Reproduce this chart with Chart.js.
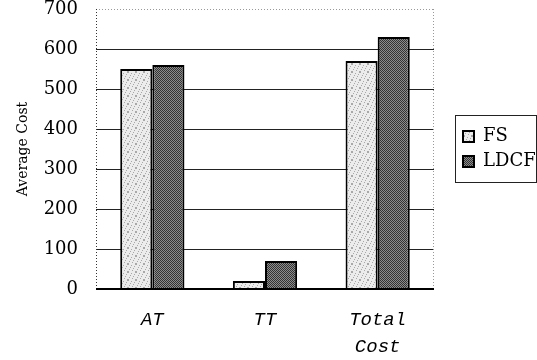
<!DOCTYPE html>
<html>
<head>
<meta charset="utf-8">
<script src="https://cdn.jsdelivr.net/npm/chart.js@4"></script>
<style>
  html, body { margin: 0; padding: 0; background: #fff; }
  #wrap { width: 537px; height: 360px; }
</style>
</head>
<body>
<div id="wrap"><canvas id="grafico" width="537" height="360"></canvas></div>
<script>
const categorias = ["AT", "TT", ["Total", "Cost"]];
const fs = [550, 20, 570];
const ldcf = [560, 70, 630];
const yTicks = [0, 100, 200, 300, 400, 500, 600, 700];

// stippled fills, like the printed original
function padrao(base, dot, step) {
  const c = document.createElement("canvas");
  c.width = 8; c.height = 8;
  const g = c.getContext("2d");
  g.fillStyle = base;
  g.fillRect(0, 0, 8, 8);
  g.fillStyle = dot;
  for (let y = 0; y < 8; y++) {
    for (let x = 0; x < 8; x++) {
      if ((x * 3 + y * 5) % step === 0) g.fillRect(x, y, 1, 1);
    }
  }
  return g.createPattern(c, "repeat");
}

const corFS = padrao("#ececec", "#a8a8a8", 7);
const corLDCF = padrao("#8c8c8c", "#333", 2);

const moldura = {
  id: "moldura",
  beforeDatasetsDraw(chart) {
    const a = chart.chartArea;
    const ctx = chart.ctx;
    ctx.save();
    ctx.lineWidth = 1;
    ctx.setLineDash([1, 2]);
    ctx.strokeStyle = "#999";
    ctx.beginPath();
    ctx.moveTo(a.left, a.top + 0.5);
    ctx.lineTo(a.right, a.top + 0.5);
    ctx.moveTo(a.right - 0.5, a.top);
    ctx.lineTo(a.right - 0.5, a.bottom);
    ctx.stroke();
    ctx.strokeStyle = "#333";
    ctx.beginPath();
    ctx.moveTo(a.left + 0.5, a.top);
    ctx.lineTo(a.left + 0.5, a.bottom);
    ctx.stroke();
    ctx.restore();
  },
  afterDraw(chart) {
    const a = chart.chartArea;
    const ctx = chart.ctx;
    ctx.save();
    ctx.strokeStyle = "#000";
    ctx.lineWidth = 2;
    ctx.beginPath();
    ctx.moveTo(a.left, a.bottom);
    ctx.lineTo(a.right, a.bottom);
    ctx.stroke();
    // legend frame
    const lg = chart.legend;
    ctx.lineWidth = 1;
    ctx.strokeStyle = "#222";
    ctx.strokeRect(lg.left - 0.5, 115.5, 537 - lg.left, 67);
    ctx.restore();
  }
};

new Chart(document.getElementById("grafico"), {
  type: "bar",
  data: {
    labels: categorias,
    datasets: [
      { label: "FS", data: fs, backgroundColor: corFS, borderColor: "#000", borderWidth: 2 },
      { label: "LDCF", data: ldcf, backgroundColor: corLDCF, borderColor: "#000", borderWidth: 2 }
    ]
  },
  options: {
    responsive: false,
    animation: false,
    datasets: { bar: { categoryPercentage: 0.57, barPercentage: 1 } },
    layout: { padding: { top: 9, right: 0, left: 0, bottom: 0 } },
    scales: {
      x: {
        grid: { display: false },
        border: { display: false },
        ticks: {
          color: "#000",
          padding: 9,
          maxRotation: 0,
          font: { family: "'Liberation Mono', monospace", size: 19, style: "italic", lineHeight: 1.45 }
        },
        afterFit(s) { s.height = 71; }
      },
      y: {
        min: 0,
        max: 700,
        afterBuildTicks(s) { s.ticks = yTicks.map(v => ({ value: v })); },
        grid: {
          drawTicks: true,
          tickLength: 18,
          tickColor: "rgba(0,0,0,0)",
          color: c => (c.tick && (c.tick.value === 0 || c.tick.value === 700)) ? "rgba(0,0,0,0)" : "#222",
          lineWidth: 1
        },
        border: { display: false },
        ticks: {
          color: "#000",
          padding: 0,
          font: { family: "'DejaVu Serif', serif", size: 18, lineHeight: 1 }
        },
        title: {
          display: true,
          text: "Average Cost",
          color: "#000",
          padding: { top: 15, bottom: 4 },
          font: { family: "'DejaVu Serif', serif", size: 14 }
        },
        afterFit(s) { s.width = 96; }
      },
      // empty spacer between plot and legend
      gap: {
        type: "linear",
        position: "right",
        display: true,
        grid: { display: false },
        border: { display: false },
        ticks: { display: false },
        afterFit(s) { s.width = 22; }
      }
    },
    plugins: {
      legend: {
        position: "right",
        fullSize: false,
        maxWidth: 81,
        labels: {
          color: "#000",
          boxWidth: 11,
          boxHeight: 11,
          padding: 7,
          font: { family: "'DejaVu Serif', serif", size: 18 }
        }
      },
      tooltip: { enabled: false }
    }
  },
  plugins: [moldura]
});
</script>
</body>
</html>
